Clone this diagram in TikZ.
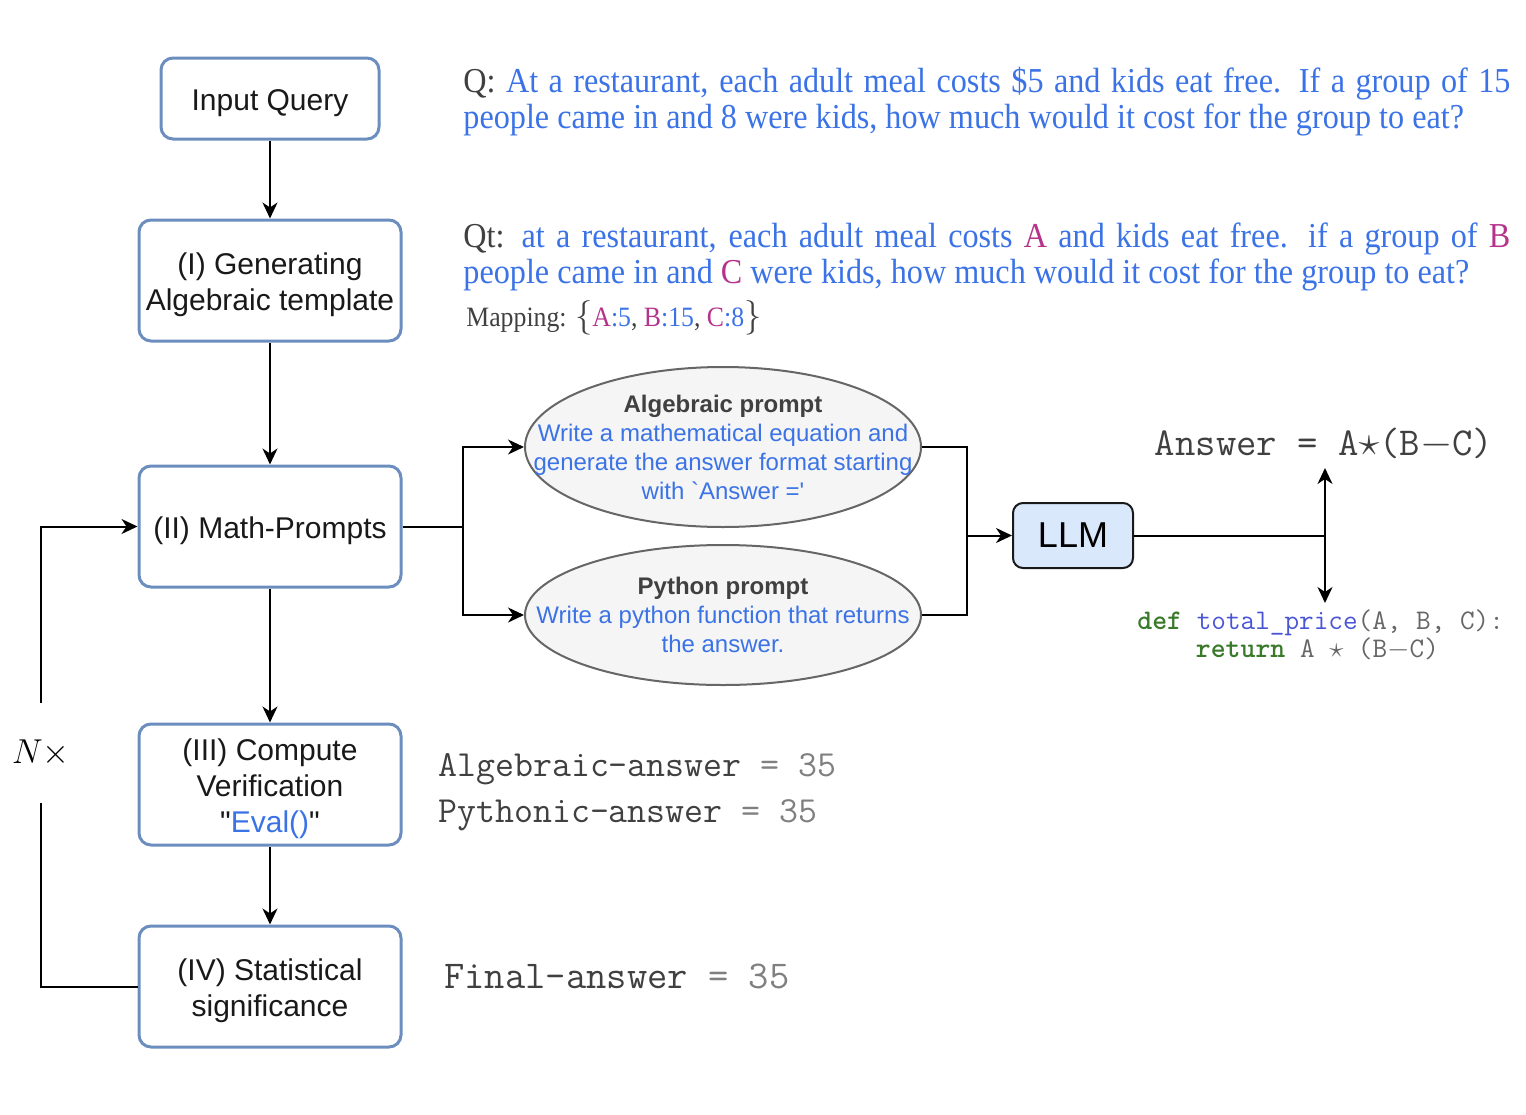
\documentclass[tikz,border=0pt]{standalone}
\usepackage{fontspec}
\setmainfont{Liberation Sans}
\newfontfamily\qfont{Liberation Serif}[FakeStretch=0.92]
\usetikzlibrary{positioning, arrows.meta, shapes.geometric}
\definecolor{stageblue}{HTML}{6C8EBF}
\definecolor{llmfill}{HTML}{DAE8FC}
\definecolor{promptfill}{HTML}{F5F5F5}
\definecolor{promptline}{HTML}{666666}
\definecolor{txtblue}{HTML}{3B73E6}
\definecolor{varpink}{HTML}{B5338A}
\definecolor{txtgray}{HTML}{404040}
\definecolor{codegreen}{HTML}{3A7A2A}
\definecolor{codeblue}{HTML}{4A55D6}
\definecolor{lightgray}{HTML}{808080}
\newcommand{\qline}[1]{\hbox to 523.5pt{#1}}
\newcommand{\topstrut}{\rule{0pt}{15.5pt}}

\begin{document}
\begin{tikzpicture}[x=0.5pt, y=-0.5pt,
    stage/.style={draw=stageblue, line width=1.5pt, rounded corners=6pt, fill=white,
                  minimum width=131pt, minimum height=60.5pt, align=center, inner sep=2pt,
                  font=\fontsize{15}{18}\selectfont, text=black!90},
    prompt/.style={ellipse, draw=promptline, line width=1pt, fill=promptfill,
                   minimum width=198pt, inner sep=0pt},
    prompttext/.style={align=center, inner sep=0pt, text=txtblue,
                       font=\fontsize{12}{14.5}\selectfont},
    llmbox/.style={draw=black!90, line width=1pt, rounded corners=5pt, fill=llmfill,
                   minimum width=60pt, minimum height=32.5pt, font=\fontsize{18}{20}\selectfont},
    qtext/.style={anchor=base west, inner sep=0pt, text=txtblue, font=\qfont\fontsize{17.5}{18}\selectfont},
    monotext/.style={anchor=base west, inner sep=0pt, text=txtgray, font=\ttfamily\fontsize{18.4}{20}\selectfont},
    line/.style={line width=1pt},
    arr/.style={-{Stealth[length=8pt, width=7.5pt, inset=2.5pt]}, line width=1pt},
    arrboth/.style={{Stealth[length=8pt, width=7.5pt, inset=2.5pt]}-{Stealth[length=8pt, width=7.5pt, inset=2.5pt]}, line width=1pt},
]
\useasboundingbox (0,0) rectangle (1526,1114);

% pipeline stages
\node[stage, minimum width=109pt, minimum height=40.5pt] (query) at (270,98.5) {\topstrut Input Query};
\node[stage] (templ) at (270,280.5) {\topstrut(I) Generating\\Algebraic template};
\node[stage] (prompts) at (270,526.5) {\topstrut(II) Math-Prompts};
\node[stage] (verify) at (270,784.5) {\topstrut(III) Compute\\Verification\\\textquotedbl\textcolor{txtblue}{Eval()}\textquotedbl};
\node[stage] (stat) at (270,986.5) {\topstrut(IV) Statistical\\significance};

\draw[arr] (query) -- (templ);
\draw[arr] (templ) -- (prompts);
\draw[arr] (prompts) -- (verify);
\draw[arr] (verify) -- (stat);

% repeat loop
\node[inner sep=0pt, minimum height=50pt, font=\fontsize{17}{20}\selectfont] (reps) at (41,753) {$N\times$};
\draw[line] (stat.west) -| (reps.south);
\draw[arr] (reps.north) |- (prompts.west);

% prompts
\node[prompt, minimum height=80pt] (alg) at (723,447) {};
\node[prompttext] (algtxt) at (alg) {{\bfseries\color{txtgray}Algebraic prompt}\\Write a mathematical equation and\\generate the answer format starting\\with \textasciigrave Answer =\textquotesingle};
\node[prompt, minimum height=70pt] (py) at (723,615) {};
\node[prompttext] (pytxt) at (py) {{\bfseries\color{txtgray}Python prompt}\\Write a python function that returns\\the answer.};

\coordinate (split) at (463,526.5);
\draw[line] (prompts.east) -- (split);
\draw[arr] (split) |- (alg.west);
\draw[arr] (split) |- (py.west);

\node[llmbox] (llm) at (1073,535.5) {LLM};
\coordinate (join) at (967,535.5);
\draw[line] (alg.east) -| (join);
\draw[line] (py.east) -| (join);
\draw[arr] (join) -- (llm.west);

\coordinate (fork) at (1325,535.5);
\coordinate (outup) at (1325,468);
\coordinate (outdown) at (1325,603);
\draw[line] (llm.east) -- (fork);
\draw[arrboth] (outup) -- (outdown);

\node[anchor=base, inner sep=0pt, text=txtgray, font=\ttfamily\fontsize{19.8}{22}\selectfont] (answer) at (1324,455) {Answer = A$\star$(B$-$C)};
\node[anchor=north west, inner sep=0pt, align=left, text=black!60, font=\ttfamily\fontsize{14.2}{14.4}\selectfont] (code) at (1137,609)
    {{\bfseries\color{codegreen}def} {\color{codeblue}total\_price}(A, B, C):\\
     \phantom{defx}{\bfseries\color{codegreen}return} A $\star$ (B$-$C)};

% query and template text
\node[qtext] (qA) at (463,92) {\qline{{\color{txtgray}Q:} At a restaurant, each adult meal costs \$5 and kids eat free.  If a group of 15}};
\node[qtext] (qB) at (463,128) {people came in and 8 were kids, how much would it cost for the group to eat?};
\node[qtext] (qtA) at (463,247) {\qline{{\color{txtgray}Qt:} at a restaurant, each adult meal costs {\color{varpink}A} and kids eat free.  if a group of {\color{varpink}B}}};
\node[qtext] (qtB) at (463,283) {people came in and {\color{varpink}C} were kids, how much would it cost for the group to eat?};
\node[qtext, text=txtgray, font=\qfont\fontsize{14}{16}\selectfont] (mapping) at (466,326)
    {Mapping: {\fontsize{16.5}{16}\selectfont$\{$}\textcolor{varpink}{A}\textcolor{txtblue}{:5}, \textcolor{varpink}{B}\textcolor{txtblue}{:15}, \textcolor{varpink}{C}\textcolor{txtblue}{:8}{\fontsize{16.5}{16}\selectfont$\}$}};

% answers
\node[monotext] (algans) at (438,776) {Algebraic-answer {\color{lightgray}= 35}};
\node[monotext] (pyans) at (438,822) {Pythonic-answer {\color{lightgray}= 35}};
\node[monotext, font=\ttfamily\fontsize{19.7}{22}\selectfont] (finalans) at (444,988) {Final-answer {\color{lightgray}= 35}};
\end{tikzpicture}
\end{document}
